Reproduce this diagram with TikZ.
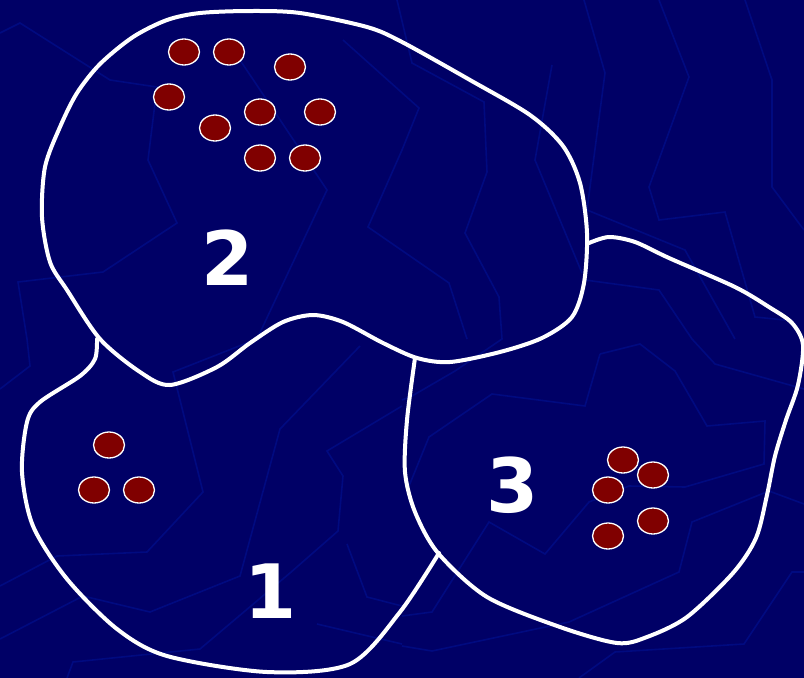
\documentclass[tikz,border=0pt]{standalone}
\usepackage{fontspec}
\newfontfamily\numfont{DejaVu Sans}
\usetikzlibrary{shapes.geometric}
\definecolor{bgblue}{HTML}{000066}
\definecolor{texblue}{HTML}{000A80}
\definecolor{dotred}{HTML}{800000}
\tikzset{
  texline/.style={draw=texblue, line width=1.6pt, line join=miter},
  outline/.style={draw=white, line width=4pt, line cap=round, line join=round},
  dot/.style={ellipse, draw=white, line width=1.3pt, fill=dotred, minimum width=31pt, minimum height=26pt, inner sep=0pt},
  num/.style={text=white, font=\numfont\bfseries\fontsize{75}{75}\selectfont, inner sep=0pt}
}
\begin{document}
\begin{tikzpicture}[x=1pt,y=-1pt]
\fill[bgblue] (0,0) rectangle (804,678);
\useasboundingbox (0,0) rectangle (804,678);
\begin{scope}
\clip (0,0) rectangle (804,678);
% background texture
\draw[texline] (0,33) -- (20,23) -- (110,80) -- (157,87) -- (148,160) -- (177,223) -- (103,272) -- (18,282) -- (27,339) -- (30,366) -- (0,389);
\draw[texline] (240,60) -- (327,190) -- (257,339) -- (173,372) -- (203,492) -- (147,552) -- (57,556) -- (0,586);
\draw[texline] (343,40) -- (419,108) -- (402,150) -- (368,227) -- (449,283) -- (467,339);
\draw[texline] (397,0) -- (412,63) -- (484,102) -- (487,172) -- (465,233) -- (499,297) -- (502,339) -- (455,371) -- (412,396) -- (402,400);
\draw[texline] (552,65) -- (535,160) -- (582,273);
\draw[texline] (585,280) -- (659,290) -- (692,339) -- (715,364) -- (804,389);
\draw[texline] (584,0) -- (605,73) -- (587,210) -- (685,250) -- (735,339);
\draw[texline] (659,0) -- (689,77) -- (649,187) -- (659,220) -- (725,212) -- (755,317) -- (785,320);
\draw[texline] (745,0) -- (772,80) -- (772,187) -- (804,230);
\draw[texline] (600,354) -- (640,344) -- (675,371) -- (707,426) -- (765,421) -- (764,464) -- (685,487) -- (629,486) -- (589,502) -- (545,554) -- (489,522) -- (432,612) -- (402,616);
\draw[texline] (409,486) -- (429,437) -- (492,394) -- (585,406) -- (600,354);
\draw[texline] (804,504) -- (769,491) -- (692,522) -- (679,572) -- (569,622) -- (432,651) -- (402,646);
\draw[texline] (579,678) -- (615,652) -- (744,644) -- (792,572) -- (804,572);
\draw[texline] (360,346) -- (280,429) -- (240,576) -- (150,612) -- (83,596) -- (0,639);
\draw[texline] (402,406) -- (327,451) -- (343,476) -- (338,531) -- (290,573) -- (200,649) -- (73,662) -- (67,678);
\draw[texline] (347,544) -- (367,597) -- (402,606);
\draw[texline] (317,624) -- (402,644);
% blob 2
\draw[outline] plot[smooth cycle, tension=0.5] coordinates {
 (100,64) (133,37) (167,20) (200,13) (250,11) (300,13) (367,27) (402,42) (470,80) (530,115)
 (563,146) (580,183) (587,233) (584,283) (572,317) (542,338) (500,352) (450,362)
 (417,358) (383,343) (343,322) (313,315) (283,322) (250,343) (217,367) (170,385) (140,372) (100,339)
 (67,290) (50,262) (42,217) (45,167) (60,127) (77,93)};
% blob 1
\draw[outline] plot[smooth, tension=0.5] coordinates {
 (97,339) (95,359) (80,376) (40,402) (27,422) (22,472) (33,526) (67,579) (117,629) (167,656)
 (267,672) (350,664) (400,612) (439,553)};
% blob 3
\draw[outline] plot[smooth, tension=0.5] coordinates {
 (589,243) (609,237) (635,242) (669,258) (735,287) (769,307) (792,323) (803,345) (798,385)
 (786,420) (775,456) (767,495) (756,538) (733,573) (687,617) (647,637) (617,643) (560,627) (487,597) (438,553)
 (415,512) (405,472) (407,420) (415,358)};
\end{scope}
% numbers
\node[num] (n2) at (228,258) {2};
\node[num] (n1) at (271,591) {1};
\node[num] (n3) at (513,485) {3};
% dots in region 2
\node[dot] (a1) at (184,52) {};
\node[dot] (a2) at (229,52) {};
\node[dot] (a3) at (290,67) {};
\node[dot] (a4) at (169,97) {};
\node[dot] (a5) at (260,112) {};
\node[dot] (a6) at (320,112) {};
\node[dot] (a7) at (215,128) {};
\node[dot] (a8) at (260,158) {};
\node[dot] (a9) at (305,158) {};
% dots in region 1
\node[dot] (b1) at (109,445) {};
\node[dot] (b2) at (94,490) {};
\node[dot] (b3) at (139,490) {};
% dots in region 3
\node[dot] (c1) at (623,460) {};
\node[dot] (c2) at (653,475) {};
\node[dot] (c3) at (608,490) {};
\node[dot] (c4) at (653,521) {};
\node[dot] (c5) at (608,536) {};
\end{tikzpicture}
\end{document}
